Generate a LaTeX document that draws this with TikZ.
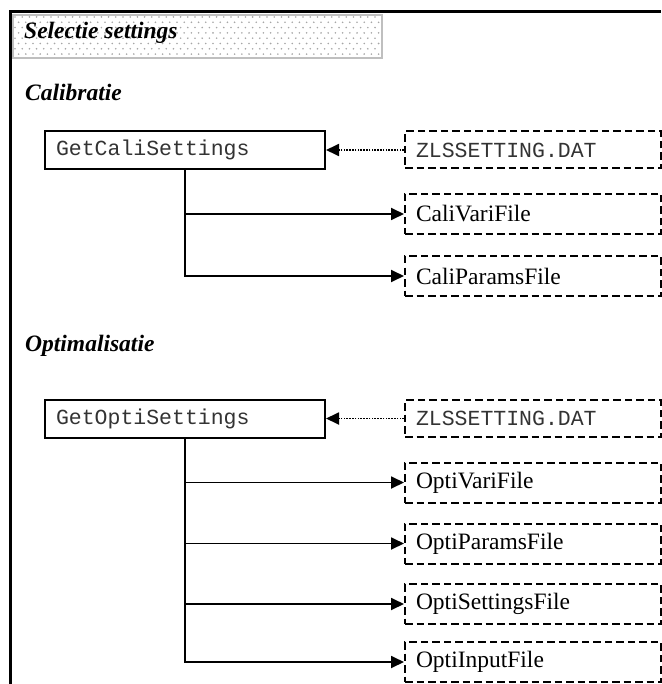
\documentclass[tikz,border=0pt]{standalone}
\usepackage{fontspec}
\setmainfont{Liberation Serif}
\newfontfamily\codefont{Liberation Mono}
\usetikzlibrary{arrows.meta}
\newcommand{\bodysize}{\fontsize{23.5}{27}\selectfont}
\newcommand{\codesize}{\fontsize{21.5}{25}\selectfont}
\tikzset{
  heading/.style={anchor=base west,inner sep=0pt,font=\bodysize\bfseries\itshape},
  procbox/.style={draw,line width=2pt,minimum height=38pt,text width=258pt,
    inner xsep=11pt,align=left,font=\codesize\codefont,text=black!80},
  filebox/.style={draw,line width=2pt,dash pattern=on 7.5pt off 4pt,anchor=west,
    minimum height=40pt,text width=234pt,inner xsep=11pt,align=left,font=\bodysize},
  datbox/.style={filebox,minimum height=37pt,font=\codesize\codefont,text=black!80},
  link/.style={-{Triangle[length=13pt,width=12pt]},line width=1.8pt},
  readlink/.style={link,dash pattern=on 1.6pt off 1.2pt}
}
\begin{document}
\begin{tikzpicture}[x=1pt,y=-1pt]
  \useasboundingbox (0,0) rectangle (661,684);
  % frame and header
  \draw[line width=3pt] (10,684) -- (10,12) -- (661,12);
  \begin{scope}
    \clip (13,15) rectangle (382,58);
    \foreach \r in {0,...,8}{
      \pgfmathsetmacro{\shift}{mod(\r,2)*3.6}
      \foreach \c in {0,...,51}
        \fill[gray!70] (15+\shift+\c*7.2,17+\r*5.3) circle (0.9);}
  \end{scope}
  \draw[gray!50,line width=2pt] (13,15) rectangle (382,58);
  \node[heading] (title) at (24,39) {Selectie settings};

  % Calibratie
  \node[heading] (calhead) at (25,101) {Calibratie};
  \node[procbox] (cali) at (185,150) {GetCaliSettings};
  \node[datbox] (calidat) at (404,150) {ZLSSETTING.DAT};
  \node[filebox] (calivari) at (404,214) {CaliVariFile};
  \node[filebox] (caliparams) at (404,276) {CaliParamsFile};
  \draw[readlink] (calidat) -- (cali);
  \draw[link] (cali.south) |- (calivari.west);
  \draw[link] (cali.south) |- (caliparams.west);

  % Optimalisatie
  \node[heading] (opthead) at (25,351) {Optimalisatie};
  \node[procbox] (opti) at (185,418.5) {GetOptiSettings};
  \node[datbox] (optidat) at (404,418.5) {ZLSSETTING.DAT};
  \draw[readlink] (optidat) -- (opti);
  \foreach \nm/\y [count=\i] in {OptiVariFile/482.5,OptiParamsFile/543.5,
      OptiSettingsFile/604,OptiInputFile/662}{
    \node[filebox] (optifile\i) at (404,\y) {\nm};
    \draw[link] (opti.south) |- (optifile\i.west);}
\end{tikzpicture}
\end{document}
